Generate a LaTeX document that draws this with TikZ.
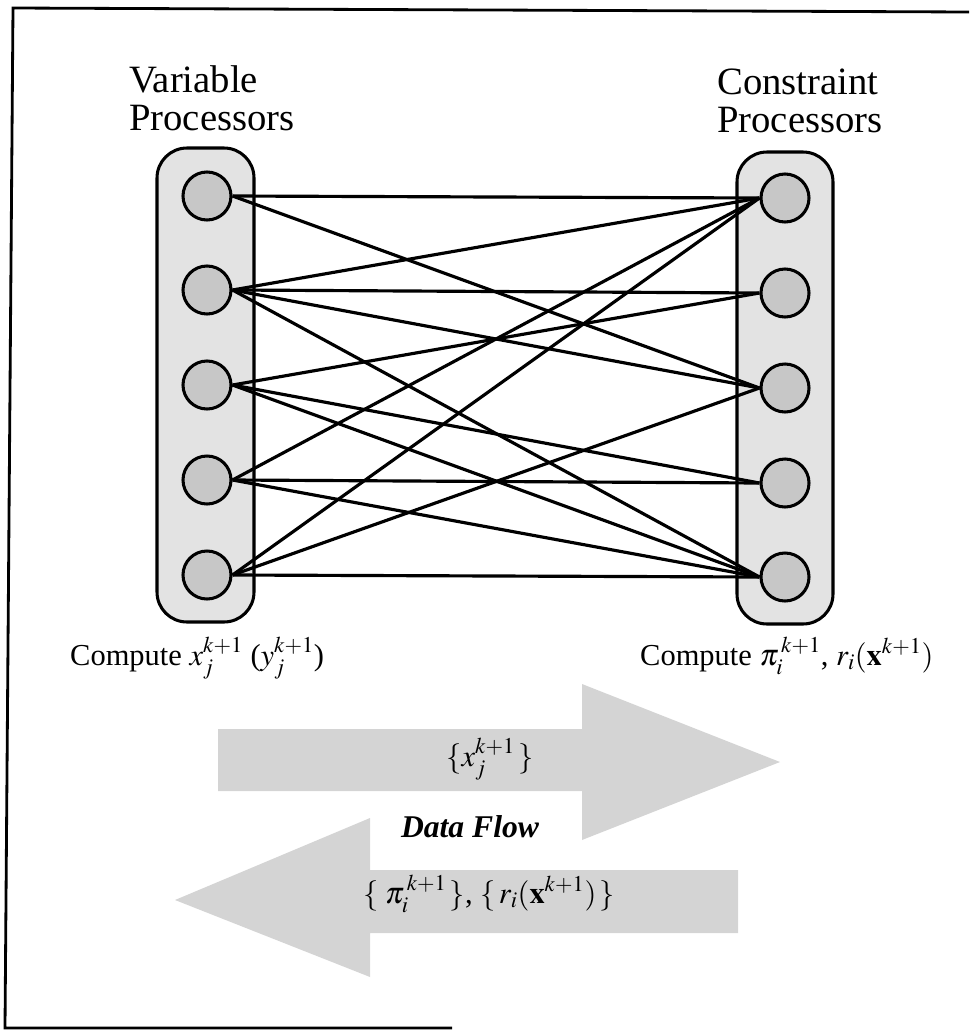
\documentclass[tikz,border=0pt]{standalone}
\usepackage{mathptmx}
\usepackage{fontspec}
\setmainfont{Liberation Serif}
\newfontfamily\timesfam{Liberation Serif}
\usetikzlibrary{fit}
\begin{document}
\begin{tikzpicture}[x=0.03cm,y=-0.03cm,
  colbox/.style={draw=black, line width=2.6pt, fill=black!11, rounded corners=0.9cm, inner sep=0pt},
  proc/.style={circle, draw=black, line width=2.6pt, fill=black!22, minimum size=1.44cm, inner sep=0pt},
  link/.style={line width=2.7pt},
  frameline/.style={line width=2.4pt},
  flow/.style={fill=black!17, draw=none},
  heading/.style={font=\timesfam\fontsize{33}{33}\selectfont, inner sep=0pt},
  lab/.style={font=\timesfam\fontsize{26}{26}\selectfont, inner sep=0pt},
  flowlab/.style={font=\timesfam\fontsize{26}{26}\selectfont, inner sep=0pt}]
\useasboundingbox (0,0) rectangle (969,1030);
% frame (partial, as scanned)
\coordinate (ftl) at (13,8);
\coordinate (ftr) at (969,12);
\coordinate (fbl) at (5,1028);
\coordinate (fbr) at (452,1028);
\draw[frameline] (ftr) -- (ftl) -- (fbl) -- (fbr);
% titles
\node[heading, anchor=base west] (vt1) at (129,92) {Variable};
\node[heading, anchor=base west] (vt2) at (129,130) {Processors};
\node[heading, anchor=base west] (ct1) at (717,94) {Constraint};
\node[heading, anchor=base west] (ct2) at (717,132) {Processors};
% column boxes
\node[colbox, fit={(157,148) (254,622)}] (lbox) {};
\node[colbox, fit={(737,152) (833,624)}] (rbox) {};
% processors
\foreach \i/\y in {1/196,2/290,3/385,4/480,5/575}
  \node[proc] (L\i) at (207,\y) {};
\foreach \i/\y in {1/198,2/293,3/388,4/483,5/577}
  \node[proc] (R\i) at (785,\y) {};
% connections
\foreach \a/\b in {1/1,1/3,2/1,2/2,2/3,2/5,3/2,3/4,3/5,4/1,4/4,4/5,5/1,5/3,5/5}
  \draw[link] (L\a.east) -- (R\b.west);
% compute labels
\node[lab, anchor=base west] (lc) at (70,665) {Compute $x_j^{k+1}$ ($y_j^{k+1}$)};
\node[lab, anchor=base west] (rc) at (640,665) {Compute $\pi_i^{\,k+1}$, $r_i(\mathbf{x}^{k+1})$};
% data flow arrows
\fill[flow] (218,729) -- (582,729) -- (582,684) -- (780,762) -- (582,840) -- (582,791) -- (218,791) -- cycle;
\fill[flow] (738,870) -- (370,870) -- (370,818) -- (175,900) -- (370,977) -- (370,933) -- (738,933) -- cycle;
\node[flowlab, anchor=base] (fx) at (490,766) {$\{x_j^{k+1}\,\}$};
\node[font=\timesfam\fontsize{27}{27}\selectfont\bfseries\itshape, inner sep=0pt, anchor=base] (df) at (470,837) {Data Flow};
\node[flowlab, anchor=base] (fp) at (489,903) {$\{\;\pi_i^{\,k+1}\,\}$, $\{\,r_i(\mathbf{x}^{k+1})\,\}$};
\end{tikzpicture}
\end{document}
